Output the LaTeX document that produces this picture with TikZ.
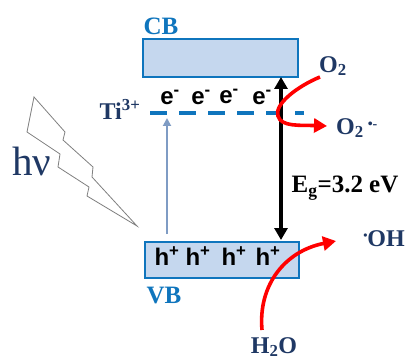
\documentclass[tikz,border=0pt]{standalone}
\usepackage{fontspec}
\setmainfont{Liberation Serif}
\newfontfamily\sansb[BoldFont=Liberation Sans Bold]{Liberation Sans}
\usetikzlibrary{arrows.meta}
\definecolor{bandblue}{HTML}{0F75BD}
\definecolor{bandfill}{HTML}{C5D7EE}
\definecolor{navy}{HTML}{1F3864}
\definecolor{thinblue}{HTML}{7F9CC4}
\tikzset{
 x=1pt,y=-1pt,
 band/.style={draw=bandblue,fill=bandfill,line width=2pt,inner sep=0},
 blab/.style={font=\bfseries\fontsize{25}{25}\selectfont,text=bandblue,inner sep=0},
 nlab/.style={font=\bfseries\fontsize{24}{24}\selectfont,text=navy,inner sep=0},
 carrier/.style={font=\sansb\bfseries\fontsize{24}{24}\selectfont,text=black,inner sep=0},
 redarrow/.style={draw=red,line width=3.6pt,-{Triangle[length=13pt,width=14pt]}},
 blackarrow/.style={draw=black,line width=3.6pt,{Triangle[length=12pt,width=13pt]}-{Triangle[length=12pt,width=13pt]}}
}
\begin{document}
\begin{tikzpicture}
\useasboundingbox (0,0) rectangle (405,361);
\fill[white] (0,0) rectangle (405,361);
\draw[band] (143,39) rectangle (298,77);
\draw[band] (145,242) rectangle (299,278);
\coordinate (cbb) at (281,77);
\coordinate (vbt) at (281,240);
\coordinate (tlb) at (167,234);
\coordinate (tlt) at (167,118);
\coordinate (dl) at (150,113);
\coordinate (dr) at (304,113);
\draw[bandblue,line width=3.6pt,dash pattern=on 17pt off 12pt] (dl) -- (dr);
\draw[blackarrow] (cbb) -- (vbt);
\draw[thinblue,line width=1.8pt,-{Triangle[length=8pt,width=8pt]}] (tlb) -- (tlt);
\node[blab] (cb) at (161,26) {CB};
\node[blab] (vb) at (164,296) {VB};
\node[nlab] (ti) at (120,109) {Ti\textsuperscript{3+}};
\node[carrier] (e1) at (170,97) {e\textsuperscript{-}};
\node[carrier] (e2) at (201,97) {e\textsuperscript{-}};
\node[carrier] (e3) at (229,96) {e\textsuperscript{-}};
\node[carrier] (e4) at (262,97) {e\textsuperscript{-}};
\node[carrier] (h1) at (167,256) {h\textsuperscript{+}};
\node[carrier] (h2) at (198,256) {h\textsuperscript{+}};
\node[carrier] (h3) at (234,256) {h\textsuperscript{+}};
\node[carrier] (h4) at (268,256) {h\textsuperscript{+}};
\node[nlab] (o2) at (333,66) {O\textsubscript{2}};
\node[nlab,anchor=west] (o2r) at (336,128) {O\textsubscript{2}\,\raisebox{6pt}{\fontsize{14}{14}\selectfont\textbullet-}};
\node[nlab,anchor=east] (oh) at (405,239) {\raisebox{7pt}{\fontsize{12}{12}\selectfont\textbullet}OH};
\node[nlab] (h2o) at (274,347) {H\textsubscript{2}O};
\node[font=\bfseries\fontsize{25}{25}\selectfont,inner sep=0] (eg) at (345,188) {E\textsubscript{g}=3.2 eV};
\node[font=\fontsize{41}{41}\selectfont,text=navy,inner sep=0] (hv) at (32,161) {hν};
\coordinate (o2s) at (320,77);
\coordinate (o2e) at (327,126);
\draw[redarrow] (o2s) .. controls (298,86) and (274,104) .. (278,116) .. controls (281,127) and (300,125) .. (o2e);
\coordinate (h2os) at (262,330);
\coordinate (ohe) at (336,241);
\draw[redarrow] (h2os) .. controls (258,285) and (285,251) .. (ohe);
\draw[gray,line width=0.8pt] (34,97) -- (65,132) -- (63,140) -- (93,167) -- (92,177) -- (137,226) -- (87,196) -- (89,187) -- (58,167) -- (60,154) -- (27,132) -- cycle;
\end{tikzpicture}
\end{document}
